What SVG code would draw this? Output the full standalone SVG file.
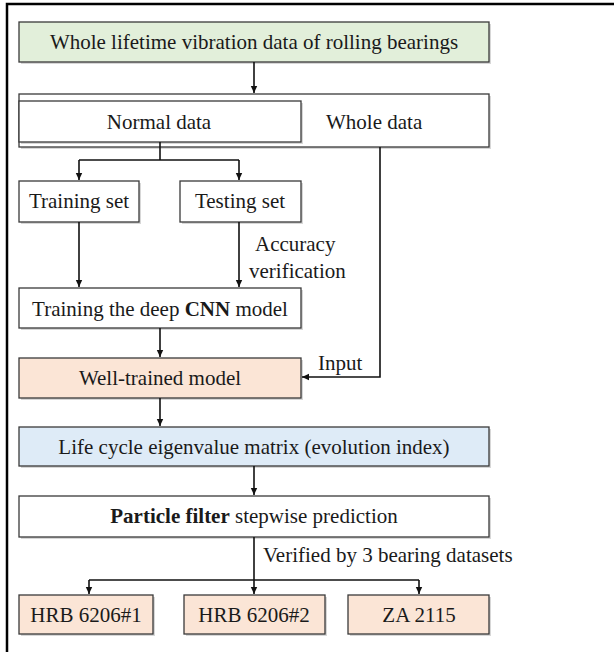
<svg xmlns="http://www.w3.org/2000/svg" width="614" height="652" viewBox="0 0 614 652">
<defs>
<style>
.b{stroke:#3a3a3a;stroke-width:1.3}
.sh{fill:#bdbdbd;opacity:0.6}
text{font-family:"Liberation Serif","Times New Roman",serif;font-size:21px;fill:#1a1a1a}
.c{text-anchor:middle}
.ln{stroke:#111;stroke-width:1.6;fill:none}
</style>
<marker id="ah" markerWidth="8" markerHeight="8" refX="7" refY="4" orient="auto" markerUnits="userSpaceOnUse">
<path d="M0,0.8 L7,4 L0,7.2 Z" fill="#111"/>
</marker>
</defs>
<rect width="614" height="652" fill="#fff"/>
<path d="M7,652 V4 H614" fill="none" stroke="#000" stroke-width="2.5"/>

<g id="n-whole-lifetime">
<rect class="sh" x="21" y="24" width="470" height="40"/>
<rect class="b" x="19" y="22" width="470" height="40" fill="#e2efda"/>
<text class="c" x="254" y="49">Whole lifetime vibration data of rolling bearings</text>
</g>

<g id="n-whole-data">
<rect class="sh" x="21" y="96" width="470" height="53"/>
<rect class="b" x="19" y="94" width="470" height="53" fill="#fff"/>
<text x="326" y="129">Whole data</text>
</g>

<g id="n-normal-data">
<rect class="sh" x="21" y="103" width="282" height="41"/>
<rect class="b" x="19" y="101" width="282" height="41" fill="#fff"/>
<text class="c" x="159" y="129">Normal data</text>
</g>

<g id="n-training-set">
<rect class="sh" x="21" y="183" width="120" height="41"/>
<rect class="b" x="19" y="181" width="120" height="41" fill="#fff"/>
<text class="c" x="79" y="208">Training set</text>
</g>

<g id="n-testing-set">
<rect class="sh" x="182" y="183" width="121" height="41"/>
<rect class="b" x="180" y="181" width="121" height="41" fill="#fff"/>
<text class="c" x="240" y="208">Testing set</text>
</g>

<g id="n-train-cnn">
<rect class="sh" x="21" y="290" width="282" height="40"/>
<rect class="b" x="19" y="288" width="282" height="40" fill="#fff"/>
<text class="c" x="160" y="316">Training the deep <tspan font-weight="bold">CNN</tspan> model</text>
</g>

<g id="n-well-trained">
<rect class="sh" x="21" y="360" width="282" height="40"/>
<rect class="b" x="19" y="358" width="282" height="40" fill="#fbe5d6"/>
<text class="c" x="160" y="385">Well-trained model</text>
</g>

<g id="n-eigen">
<rect class="sh" x="21" y="429" width="470" height="39"/>
<rect class="b" x="19" y="427" width="470" height="39" fill="#deebf7"/>
<text class="c" x="254" y="454">Life cycle eigenvalue matrix (evolution index)</text>
</g>

<g id="n-particle">
<rect class="sh" x="21" y="498" width="470" height="41"/>
<rect class="b" x="19" y="496" width="470" height="41" fill="#fff"/>
<text class="c" x="254" y="523"><tspan font-weight="bold">Particle filter</tspan> stepwise prediction</text>
</g>

<g id="n-hrb1">
<rect class="sh" x="21" y="597" width="134" height="39"/>
<rect class="b" x="19" y="595" width="134" height="39" fill="#fbe5d6"/>
<text class="c" x="86" y="622">HRB 6206#1</text>
</g>

<g id="n-hrb2">
<rect class="sh" x="186" y="597" width="141" height="39"/>
<rect class="b" x="184" y="595" width="141" height="39" fill="#fbe5d6"/>
<text class="c" x="254" y="622">HRB 6206#2</text>
</g>

<g id="n-za">
<rect class="sh" x="350" y="597" width="141" height="39"/>
<rect class="b" x="348" y="595" width="141" height="39" fill="#fbe5d6"/>
<text class="c" x="419" y="622">ZA 2115</text>
</g>

<g id="connectors">
<path class="ln" d="M254,62 V93" marker-end="url(#ah)"/>
<path class="ln" d="M160,142 V160"/>
<path class="ln" d="M79,160 H239"/>
<path class="ln" d="M79,160 V180" marker-end="url(#ah)"/>
<path class="ln" d="M239,160 V180" marker-end="url(#ah)"/>
<path class="ln" d="M79,222 V287" marker-end="url(#ah)"/>
<path class="ln" d="M239,222 V287" marker-end="url(#ah)"/>
<path class="ln" d="M160,328 V357" marker-end="url(#ah)"/>
<path class="ln" d="M380,147 V377 H302" marker-end="url(#ah)"/>
<path class="ln" d="M160,398 V426" marker-end="url(#ah)"/>
<path class="ln" d="M254,466 V495" marker-end="url(#ah)"/>
<path class="ln" d="M254,537 V580"/>
<path class="ln" d="M89,580 H419"/>
<path class="ln" d="M89,580 V594" marker-end="url(#ah)"/>
<path class="ln" d="M254,580 V594" marker-end="url(#ah)"/>
<path class="ln" d="M419,580 V594" marker-end="url(#ah)"/>
<text x="255" y="251">Accuracy</text>
<text x="249" y="278">verification</text>
<text x="318" y="370">Input</text>
<text x="263" y="562">Verified by 3 bearing datasets</text>
</g>
</svg>
